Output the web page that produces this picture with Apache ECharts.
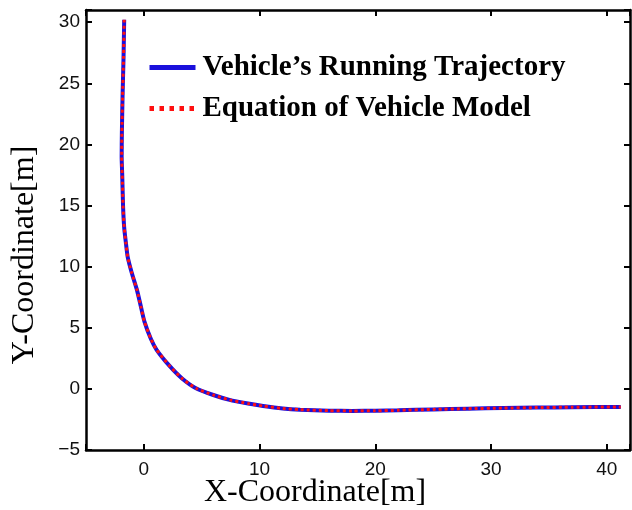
<!DOCTYPE html>
<html>
<head>
<meta charset="utf-8">
<script src="https://cdn.jsdelivr.net/npm/echarts@6/dist/echarts.min.js"></script>
<style>
html,body{margin:0;padding:0;background:#fff;}
#c{width:632px;height:510px;}
</style>
</head>
<body>
<div id="c"></div>
<script>
const seriesNames = ["Vehicle\u2019s Running Trajectory", "Equation of Vehicle Model"];
const trajX = [-1.70,-1.76,-1.84,-1.90,-1.92,-1.87,-1.80,-1.70,-1.56,-1.40,-1.05,-0.60,-0.25,0.05,0.60,1.10,2.20,3.30,4.50,6.00,7.40,9.00,10.30,12.00,13.50,16.00,18.00,20.00,22.00,25.00,28.00,31.00,34.00,37.00,41.20];
const trajY = [30.2,27.0,24.0,21.0,19.0,17.5,15.0,13.2,12.0,10.8,9.5,8.1,6.7,5.5,4.1,3.2,1.9,0.85,0.05,-0.5,-0.9,-1.2,-1.4,-1.6,-1.7,-1.78,-1.8,-1.79,-1.75,-1.68,-1.62,-1.57,-1.53,-1.50,-1.48];
const modelX = [-1.70,-1.76,-1.84,-1.90,-1.92,-1.87,-1.80,-1.70,-1.56,-1.40,-1.05,-0.60,-0.25,0.05,0.60,1.10,2.20,3.30,4.50,6.00,7.40,9.00,10.30,12.00,13.50,16.00,18.00,20.00,22.00,25.00,28.00,31.00,34.00,37.00,41.20];
const modelY = [30.2,27.0,24.0,21.0,19.0,17.5,15.0,13.2,12.0,10.8,9.5,8.1,6.7,5.5,4.1,3.2,1.9,0.85,0.05,-0.5,-0.9,-1.2,-1.4,-1.6,-1.7,-1.78,-1.8,-1.79,-1.75,-1.68,-1.62,-1.57,-1.53,-1.50,-1.48];
const xTicks = [0,10,20,30,40];
const yTicks = [-5,0,5,10,15,20,25,30];

const pair = (xs, ys) => xs.map((x, i) => [x, ys[i]]);
const fmt = (list) => (v) => list.includes(v) ? String(v).replace('-', '\u2212') : '';
const serif = '"Liberation Serif","Times New Roman",serif';
const sans = '"Liberation Sans",Arial,sans-serif';

const chart = echarts.init(document.getElementById('c'), null, {renderer: 'canvas'});
const axisLine = {show: true, onZero: false, lineStyle: {color: '#000', width: 2.5}};
const axisTick = {show: true, inside: true, length: 6, lineStyle: {color: '#000', width: 2}};
chart.setOption({
  animation: false,
  backgroundColor: '#fff',
  grid: {left: 86, right: 2, top: 10, bottom: 60, containLabel: false, outerBoundsMode: 'none'},
  legend: {
    orient: 'vertical', left: 142, top: 48, itemWidth: 46, itemHeight: 24, itemGap: 12,
    itemStyle: {opacity: 0},
    textStyle: {fontFamily: serif, fontWeight: 'bold', fontSize: 29, color: '#000', padding: [0, 0, 0, 2]},
    data: [
      {name: seriesNames[0], lineStyle: {width: 5, color: '#1a10dc'}},
      {name: seriesNames[1], lineStyle: {width: 5, color: '#ff1010', type: [4.5, 5.5]}}
    ]
  },
  xAxis: [{
    type: 'value', min: -5, max: 42, position: 'bottom',
    name: 'X-Coordinate[m]', nameLocation: 'middle', nameGap: 27, nameMoveOverlap: false,
    nameTextStyle: {fontFamily: serif, fontSize: 32, color: '#000', padding: [0, 86, 0, 0]},
    axisLine: axisLine, axisTick: axisTick, splitLine: {show: false},
    axisLabel: {fontFamily: sans, fontSize: 19, color: '#111', margin: 10, formatter: fmt(xTicks)}
  }, {
    type: 'value', min: -5, max: 42, position: 'top',
    axisLine: axisLine, axisTick: axisTick, splitLine: {show: false}, axisLabel: {show: false}
  }],
  yAxis: [{
    type: 'value', min: -5, max: 31, interval: 5, position: 'left',
    name: 'Y-Coordinate[m]', nameLocation: 'middle', nameGap: 45, nameRotate: 90,
    nameTextStyle: {fontFamily: serif, fontSize: 32, color: '#000', padding: [0, 50, 0, 0]},
    axisLine: axisLine, axisTick: axisTick, splitLine: {show: false},
    axisLabel: {fontFamily: sans, fontSize: 19, color: '#111', margin: 6, formatter: fmt(yTicks)}
  }, {
    type: 'value', min: -5, max: 31, interval: 5, position: 'right',
    axisLine: axisLine, axisTick: axisTick, splitLine: {show: false}, axisLabel: {show: false}
  }],
  series: [{
    name: seriesNames[0], type: 'line', showSymbol: false, symbol: 'none', smooth: 0.2,
    data: pair(trajX, trajY),
    lineStyle: {color: '#1a10dc', width: 4}, itemStyle: {color: '#1a10dc'}
  }, {
    name: seriesNames[1], type: 'line', showSymbol: false, symbol: 'none', smooth: 0.2,
    data: pair(modelX, modelY),
    lineStyle: {color: '#ff1010', width: 3, type: [3, 3]}, itemStyle: {color: '#ff1010'}
  }]
});
</script>
</body>
</html>
